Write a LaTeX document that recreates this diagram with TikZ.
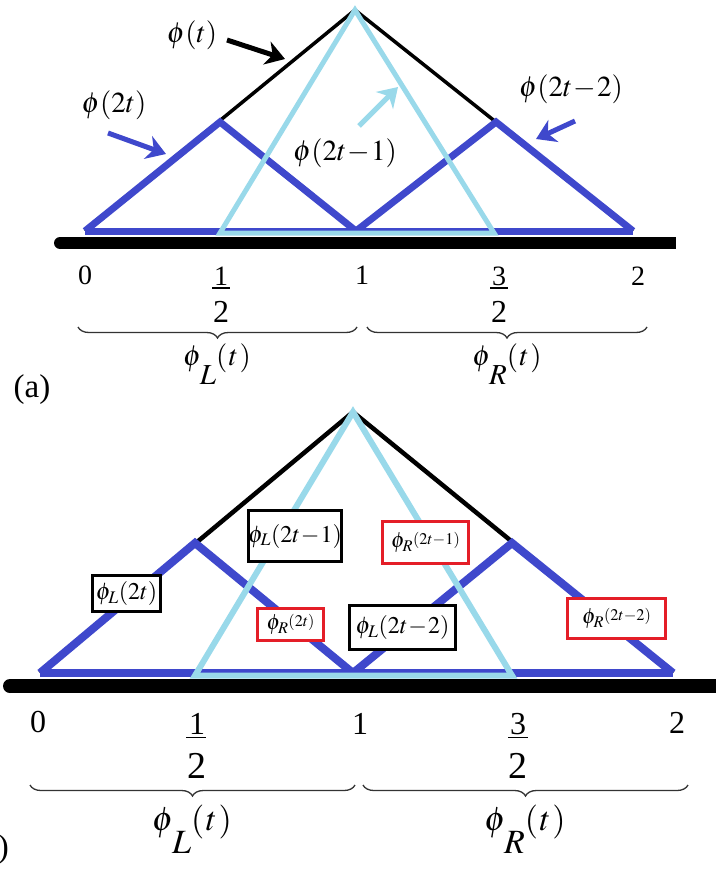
\documentclass[tikz,border=0pt]{standalone}
\usepackage{mathptmx}
\usepackage[no-math]{fontspec}
\setmainfont{Liberation Serif}
\usetikzlibrary{arrows.meta,decorations.pathreplacing}
\definecolor{myblue}{RGB}{63,72,204}
\definecolor{mylight}{RGB}{153,217,234}
\definecolor{myred}{RGB}{228,30,40}
\newcommand{\philow}[1]{$\phi\kern-0.05em\raisebox{-0.68em}{$#1$}(\kern0.05em t\kern0.05em)$}
\begin{document}
\begin{tikzpicture}[x=1pt,y=-1pt,
  blueA/.style={draw=myblue,line width=7pt,line join=miter},
  lightA/.style={draw=mylight,line width=5pt,line join=miter},
  blkA/.style={draw=black,line width=3.5pt,line join=miter},
  blueB/.style={draw=myblue,line width=8pt,line join=miter},
  lightB/.style={draw=mylight,line width=6pt,line join=miter},
  blkB/.style={draw=black,line width=4.5pt,line join=miter},
  ptr/.style={line width=5pt,-{Stealth[length=19pt,width=24pt,inset=6pt]}},
  bracestyle/.style={draw=black!80,line width=1.3pt,decorate,decoration={brace,mirror,amplitude=11pt}},
  lblA/.style={inner sep=0pt,anchor=base,font=\fontsize{28}{28}\selectfont},
  denA/.style={inner sep=0pt,anchor=base,font=\fontsize{32}{32}\selectfont},
  lblB/.style={inner sep=0pt,anchor=base,font=\fontsize{32}{32}\selectfont},
  denB/.style={inner sep=0pt,anchor=base,font=\fontsize{38}{38}\selectfont},
  fnA/.style={inner sep=0pt,font=\fontsize{29}{29}\selectfont},
  brA/.style={inner sep=0pt,anchor=base,font=\fontsize{29}{29}\selectfont},
  brB/.style={inner sep=0pt,anchor=base,font=\fontsize{34}{34}\selectfont},
  boxk/.style={draw=black,line width=3pt,fill=white,inner sep=0pt,font=\fontsize{24}{24}\selectfont},
  boxr/.style={draw=myred,line width=2.5pt,fill=white,inner sep=0pt,font=\fontsize{22}{22}\selectfont},
  panel/.style={inner sep=0pt,font=\fontsize{33}{33}\selectfont}
]
\useasboundingbox (0,0) rectangle (716,869);
% ================= panel (a) =================
\coordinate (a0) at (85,231);
\coordinate (ah) at (220,122);
\coordinate (a1) at (356,231);
\coordinate (ahh) at (496,122);
\coordinate (a2) at (633,231);
\coordinate (atop) at (355,10);
\draw[blkA] (a0) -- (atop) -- (a2);
\draw[blueA] (a0) -- (ah) -- (a1);
\draw[blueA] (a1) -- (ahh) -- (a2);
\draw[blueA] (a0) -- (a2);
\coordinate (lb1) at (220,233);
\coordinate (lb2) at (494,233);
\draw[lightA] (lb1) -- (atop) -- (lb2) -- cycle;
% axis
\coordinate (axL) at (60,243);
\coordinate (axR) at (676,243);
\draw[line width=12pt] (axL) -- (axR);
\fill (axL) circle (6pt);
% function labels and pointers
\node[fnA] (tphi) at (192,35) {$\phi(t)$};
\node[fnA] (tphi2) at (114,105) {$\phi(2t)$};
\node[fnA] (tphi21) at (345,153) {$\phi(2t\kern-0.1em-\kern-0.1em1)$};
\node[fnA] (tphi22) at (571,89) {$\phi(2t\kern-0.1em-\kern-0.1em2)$};
\coordinate (p1s) at (227,40); \coordinate (p1e) at (285,59);
\coordinate (p2s) at (108,133); \coordinate (p2e) at (166,154);
\coordinate (p3s) at (359,126); \coordinate (p3e) at (398,87);
\coordinate (p4s) at (575,121); \coordinate (p4e) at (536,139);
\draw[ptr,black] (p1s) -- (p1e);
\draw[ptr,myblue] (p2s) -- (p2e);
\draw[ptr,mylight] (p3s) -- (p3e);
\draw[ptr,myblue] (p4s) -- (p4e);
% tick labels
\node[lblA] (x0a) at (85,284) {0};
\node[lblA] (xha) at (221,285) {1};
\draw[line width=1.5pt] (212,288) -- (230,288);
\node[denA] (xhda) at (221,322) {2};
\node[lblA] (x1a) at (362,284) {1};
\node[lblA] (x3a) at (499,285) {3};
\draw[line width=1.5pt] (490,288) -- (508,288);
\node[denA] (x3da) at (499,322) {2};
\node[lblA] (x2a) at (638,285) {2};
% braces
\coordinate (bra1) at (78,327); \coordinate (bra2) at (357,327);
\coordinate (bra3) at (367,327); \coordinate (bra4) at (647,327);
\draw[bracestyle] (bra1) -- (bra2);
\draw[bracestyle] (bra3) -- (bra4);
\node[brA] (phiLa) at (217,365) {\philow{L}};
\node[brA] (phiRa) at (507,365) {\philow{R}};
\node[panel] (pa) at (32,390) {(a)};
% ================= panel (b) =================
\coordinate (b0) at (40,673);
\coordinate (bh) at (195,543);
\coordinate (b1) at (353,673);
\coordinate (bhh) at (512,543);
\coordinate (b2) at (673,673);
\coordinate (btop) at (353,412);
\draw[blkB] (b0) -- (btop) -- (b2);
\draw[blueB] (b0) -- (bh) -- (b1);
\draw[blueB] (b1) -- (bhh) -- (b2);
\draw[blueB] (b0) -- (b2);
\coordinate (lc1) at (195,675.5);
\coordinate (lc2) at (512,675.5);
\draw[lightB] (lc1) -- (btop) -- (lc2) -- cycle;
\coordinate (bxL) at (10,686);
\coordinate (bxR) at (716,686);
\draw[line width=14pt] (bxL) -- (bxR);
\fill (bxL) circle (7pt);
% boxes
\node[boxk,minimum width=68pt,minimum height=36pt] (bL2t) at (126.5,593.5) {$\phi_L(2t)$};
\node[boxk,minimum width=93pt,minimum height=51pt] (bL2t1) at (295,536) {$\phi_L(2t\kern-0.1em-\kern-0.1em1)$};
\node[boxk,minimum width=106pt,minimum height=44pt] (bL2t2) at (402.5,627.5) {$\phi_L(2t\kern-0.1em-\kern-0.1em2)$};
\node[boxr,minimum width=66pt,minimum height=32pt] (bR2t) at (290.5,624.5) {$\phi_R\raisebox{0.15em}{$\scriptstyle(2t)$}$};
\node[boxr,minimum width=86pt,minimum height=42pt] (bR2t1) at (425.5,542.5) {$\phi_R\raisebox{0.15em}{$\scriptstyle(2t-1)$}$};
\node[boxr,minimum width=98pt,minimum height=40pt] (bR2t2) at (616.5,618.5) {$\phi_R\raisebox{0.15em}{$\scriptstyle(2t-2)$}$};
% tick labels
\node[lblB] (x0b) at (38,732) {0};
\node[lblB] (xhb) at (197,734) {1};
\draw[line width=1.6pt] (186,737.5) -- (206,737.5);
\node[denB] (xhdb) at (197,778) {2};
\node[lblB] (x1b) at (360,734) {1};
\node[lblB] (x3b) at (518,734) {3};
\draw[line width=1.6pt] (508,737.5) -- (528,737.5);
\node[denB] (x3db) at (518,778) {2};
\node[lblB] (x2b) at (677,733) {2};
\coordinate (brb1) at (30,785); \coordinate (brb2) at (355,785);
\coordinate (brb3) at (363,785); \coordinate (brb4) at (688,785);
\draw[bracestyle] (brb1) -- (brb2);
\draw[bracestyle] (brb3) -- (brb4);
\node[brB] (phiLb) at (192,830) {\philow{L}};
\node[brB] (phiRb) at (525,830) {\philow{R}};
\node[panel,anchor=east] (pb) at (9,850) {(b)};
\end{tikzpicture}
\end{document}
